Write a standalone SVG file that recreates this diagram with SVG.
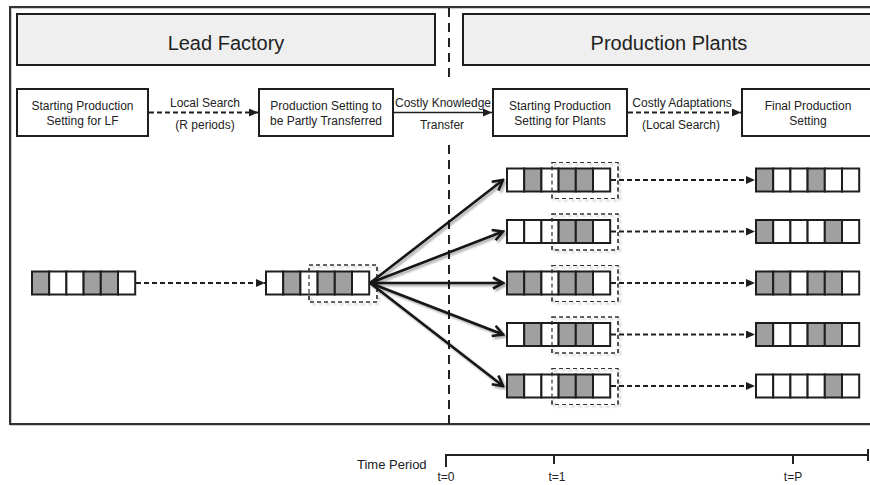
<svg xmlns="http://www.w3.org/2000/svg" width="870" height="485" viewBox="0 0 870 485">
<defs>
<style>
text{font-family:"Liberation Sans",Arial,sans-serif;fill:#222}
.t12{font-size:12px;text-anchor:middle}
.hdrt{font-size:20px;text-anchor:middle}
.box{fill:#fff;stroke:#1e1e1e;stroke-width:2}
.hdr{fill:#efefef;stroke:#1e1e1e;stroke-width:2}
.g{fill:#a0a0a0;stroke:#1e1e1e;stroke-width:2}
.w{fill:#fff;stroke:#1e1e1e;stroke-width:2}
.sel{fill:none;stroke:#333;stroke-width:1.2;stroke-dasharray:4 3}
.dash{fill:none;stroke:#1e1e1e;stroke-width:2;stroke-dasharray:5 3}
.solid{fill:none;stroke:#1e1e1e;stroke-width:1.6}
.fan{fill:none;stroke:#151515;stroke-width:2.6}
.axis{fill:none;stroke:#222;stroke-width:2}
</style>
<filter id="shadow" x="-20%" y="-20%" width="140%" height="140%">
<feGaussianBlur in="SourceAlpha" stdDeviation="1.2"/>
<feOffset dx="2" dy="2" result="b"/>
<feComponentTransfer><feFuncA type="linear" slope="0.35"/></feComponentTransfer>
<feMerge><feMergeNode/><feMergeNode in="SourceGraphic"/></feMerge>
</filter>
<marker id="tri" markerUnits="userSpaceOnUse" markerWidth="10" markerHeight="8" refX="9" refY="4" orient="auto">
<path d="M0,0 L9,4 L0,8 z" fill="#1e1e1e"/>
</marker>
<marker id="vee" markerUnits="userSpaceOnUse" viewBox="0 0 14 14" markerWidth="14" markerHeight="14" refX="12" refY="7" orient="auto">
<path d="M2,1.5 L12,7 L2,12.5" fill="none" stroke="#151515" stroke-width="2.6" stroke-linejoin="miter"/>
</marker>
</defs>

<!-- outer frame and region divider -->
<g id="frame">
<rect x="11" y="8" width="880" height="417" fill="none" stroke="#bbb" stroke-width="1.5"/>
<rect x="10" y="7" width="880" height="417" fill="none" stroke="#333" stroke-width="2"/>
<line x1="449" y1="8" x2="449" y2="82" stroke="#222" stroke-width="2" stroke-dasharray="9 6"/>
<line x1="449" y1="145" x2="449" y2="424" stroke="#222" stroke-width="2" stroke-dasharray="9 6"/>
</g>

<!-- section headers -->
<g id="hdr-lead">
<rect class="hdr" x="17" y="14" width="418" height="51"/>
<text class="hdrt" x="226" y="50">Lead Factory</text>
</g>
<g id="hdr-plants">
<rect class="hdr" x="463" y="14" width="420" height="51"/>
<text class="hdrt" x="669" y="50">Production Plants</text>
</g>

<!-- process stages -->
<g id="stage-start-lf">
<rect class="box" x="17" y="89" width="131" height="47"/>
<text class="t12" x="82.5" y="110">Starting Production</text>
<text class="t12" x="82.5" y="125">Setting for LF</text>
</g>
<g id="stage-transfer">
<rect class="box" x="259" y="89" width="134" height="47"/>
<text class="t12" x="326" y="110">Production Setting to</text>
<text class="t12" x="326" y="125">be Partly Transferred</text>
</g>
<g id="stage-start-plants">
<rect class="box" x="493" y="89" width="134" height="47"/>
<text class="t12" x="560" y="110">Starting Production</text>
<text class="t12" x="560" y="125">Setting for Plants</text>
</g>
<g id="stage-final">
<rect class="box" x="742" y="89" width="134" height="47"/>
<text class="t12" x="808" y="110">Final Production</text>
<text class="t12" x="808" y="125">Setting</text>
</g>

<!-- configuration strings -->
<g id="str-lf-start">
<rect class="g" x="32" y="271.5" width="17.2" height="23"/>
<rect class="w" x="49.2" y="271.5" width="17.2" height="23"/>
<rect class="w" x="66.4" y="271.5" width="17.2" height="23"/>
<rect class="g" x="83.6" y="271.5" width="17.2" height="23"/>
<rect class="g" x="100.8" y="271.5" width="17.2" height="23"/>
<rect class="w" x="118" y="271.5" width="17.2" height="23"/>
</g>
<g id="str-lf-end">
<rect class="sel" x="309" y="265" width="68" height="37" filter="url(#shadow)"/>
<rect class="w" x="266" y="271.5" width="17.2" height="23"/>
<rect class="g" x="283.2" y="271.5" width="17.2" height="23"/>
<rect class="w" x="300.4" y="271.5" width="17.2" height="23"/>
<rect class="g" x="317.6" y="271.5" width="17.2" height="23"/>
<rect class="g" x="334.8" y="271.5" width="17.2" height="23"/>
<rect class="w" x="352" y="271.5" width="17.2" height="23"/>
<rect class="sel" x="309" y="265" width="68" height="37"/>
</g>

<g id="str-plant1-start">
<rect class="sel" x="552" y="162.5" width="66" height="36" filter="url(#shadow)"/>
<rect class="w" x="507" y="168.5" width="17.2" height="23"/>
<rect class="g" x="524.2" y="168.5" width="17.2" height="23"/>
<rect class="w" x="541.4" y="168.5" width="17.2" height="23"/>
<rect class="g" x="558.6" y="168.5" width="17.2" height="23"/>
<rect class="g" x="575.8" y="168.5" width="17.2" height="23"/>
<rect class="w" x="593" y="168.5" width="17.2" height="23"/>
<rect class="sel" x="552" y="162.5" width="66" height="36"/>
</g>
<g id="str-plant2-start">
<rect class="sel" x="552" y="214" width="66" height="36" filter="url(#shadow)"/>
<rect class="w" x="507" y="220" width="17.2" height="23"/>
<rect class="w" x="524.2" y="220" width="17.2" height="23"/>
<rect class="w" x="541.4" y="220" width="17.2" height="23"/>
<rect class="g" x="558.6" y="220" width="17.2" height="23"/>
<rect class="g" x="575.8" y="220" width="17.2" height="23"/>
<rect class="w" x="593" y="220" width="17.2" height="23"/>
<rect class="sel" x="552" y="214" width="66" height="36"/>
</g>
<g id="str-plant3-start">
<rect class="sel" x="552" y="265.5" width="66" height="36" filter="url(#shadow)"/>
<rect class="g" x="507" y="271.5" width="17.2" height="23"/>
<rect class="g" x="524.2" y="271.5" width="17.2" height="23"/>
<rect class="w" x="541.4" y="271.5" width="17.2" height="23"/>
<rect class="g" x="558.6" y="271.5" width="17.2" height="23"/>
<rect class="g" x="575.8" y="271.5" width="17.2" height="23"/>
<rect class="w" x="593" y="271.5" width="17.2" height="23"/>
<rect class="sel" x="552" y="265.5" width="66" height="36"/>
</g>
<g id="str-plant4-start">
<rect class="sel" x="552" y="317" width="66" height="36" filter="url(#shadow)"/>
<rect class="w" x="507" y="323" width="17.2" height="23"/>
<rect class="g" x="524.2" y="323" width="17.2" height="23"/>
<rect class="w" x="541.4" y="323" width="17.2" height="23"/>
<rect class="g" x="558.6" y="323" width="17.2" height="23"/>
<rect class="g" x="575.8" y="323" width="17.2" height="23"/>
<rect class="w" x="593" y="323" width="17.2" height="23"/>
<rect class="sel" x="552" y="317" width="66" height="36"/>
</g>
<g id="str-plant5-start">
<rect class="sel" x="552" y="368.5" width="66" height="36" filter="url(#shadow)"/>
<rect class="g" x="507" y="374.5" width="17.2" height="23"/>
<rect class="w" x="524.2" y="374.5" width="17.2" height="23"/>
<rect class="w" x="541.4" y="374.5" width="17.2" height="23"/>
<rect class="g" x="558.6" y="374.5" width="17.2" height="23"/>
<rect class="g" x="575.8" y="374.5" width="17.2" height="23"/>
<rect class="w" x="593" y="374.5" width="17.2" height="23"/>
<rect class="sel" x="552" y="368.5" width="66" height="36"/>
</g>

<g id="str-plant1-final">
<rect class="g" x="756" y="168.5" width="17.2" height="23"/>
<rect class="w" x="773.2" y="168.5" width="17.2" height="23"/>
<rect class="w" x="790.4" y="168.5" width="17.2" height="23"/>
<rect class="g" x="807.6" y="168.5" width="17.2" height="23"/>
<rect class="w" x="824.8" y="168.5" width="17.2" height="23"/>
<rect class="w" x="842" y="168.5" width="17.2" height="23"/>
</g>
<g id="str-plant2-final">
<rect class="g" x="756" y="220" width="17.2" height="23"/>
<rect class="w" x="773.2" y="220" width="17.2" height="23"/>
<rect class="w" x="790.4" y="220" width="17.2" height="23"/>
<rect class="w" x="807.6" y="220" width="17.2" height="23"/>
<rect class="g" x="824.8" y="220" width="17.2" height="23"/>
<rect class="w" x="842" y="220" width="17.2" height="23"/>
</g>
<g id="str-plant3-final">
<rect class="g" x="756" y="271.5" width="17.2" height="23"/>
<rect class="g" x="773.2" y="271.5" width="17.2" height="23"/>
<rect class="w" x="790.4" y="271.5" width="17.2" height="23"/>
<rect class="g" x="807.6" y="271.5" width="17.2" height="23"/>
<rect class="g" x="824.8" y="271.5" width="17.2" height="23"/>
<rect class="w" x="842" y="271.5" width="17.2" height="23"/>
</g>
<g id="str-plant4-final">
<rect class="g" x="756" y="323" width="17.2" height="23"/>
<rect class="w" x="773.2" y="323" width="17.2" height="23"/>
<rect class="w" x="790.4" y="323" width="17.2" height="23"/>
<rect class="g" x="807.6" y="323" width="17.2" height="23"/>
<rect class="g" x="824.8" y="323" width="17.2" height="23"/>
<rect class="w" x="842" y="323" width="17.2" height="23"/>
</g>
<g id="str-plant5-final">
<rect class="w" x="756" y="374.5" width="17.2" height="23"/>
<rect class="w" x="773.2" y="374.5" width="17.2" height="23"/>
<rect class="w" x="790.4" y="374.5" width="17.2" height="23"/>
<rect class="w" x="807.6" y="374.5" width="17.2" height="23"/>
<rect class="g" x="824.8" y="374.5" width="17.2" height="23"/>
<rect class="w" x="842" y="374.5" width="17.2" height="23"/>
</g>

<!-- connectors -->
<g id="connectors">
<line class="dash" x1="149" y1="112.5" x2="258" y2="112.5" marker-end="url(#tri)"/>
<text class="t12" x="205" y="107">Local Search</text>
<text class="t12" x="205" y="129">(R periods)</text>
<line class="solid" x1="394" y1="112.5" x2="492" y2="112.5" marker-end="url(#tri)"/>
<text class="t12" x="443" y="107">Costly Knowledge</text>
<text class="t12" x="442" y="129">Transfer</text>
<line class="dash" x1="628" y1="112.5" x2="741" y2="112.5" marker-end="url(#tri)"/>
<text class="t12" x="682" y="107">Costly Adaptations</text>
<text class="t12" x="681" y="129">(Local Search)</text>

<line class="dash" x1="136" y1="283" x2="265" y2="283" marker-end="url(#tri)"/>

<g filter="url(#shadow)">
<line class="fan" x1="370" y1="283" x2="503" y2="180" marker-end="url(#vee)"/>
<line class="fan" x1="370" y1="283" x2="503" y2="231.5" marker-end="url(#vee)"/>
<line class="fan" x1="370" y1="283" x2="503" y2="283" marker-end="url(#vee)"/>
<line class="fan" x1="370" y1="283" x2="503" y2="334.5" marker-end="url(#vee)"/>
<line class="fan" x1="370" y1="283" x2="503" y2="386" marker-end="url(#vee)"/>
</g>

<line class="dash" x1="611" y1="180" x2="755" y2="180" marker-end="url(#tri)"/>
<line class="dash" x1="611" y1="231.5" x2="755" y2="231.5" marker-end="url(#tri)"/>
<line class="dash" x1="611" y1="283" x2="755" y2="283" marker-end="url(#tri)"/>
<line class="dash" x1="611" y1="334.5" x2="755" y2="334.5" marker-end="url(#tri)"/>
<line class="dash" x1="611" y1="386" x2="755" y2="386" marker-end="url(#tri)"/>
</g>

<!-- time axis -->
<g id="time-axis">
<text x="357" y="469" style="font-size:13px">Time Period</text>
<polyline class="axis" points="446,467 446,455 868,455"/>
<line class="axis" x1="868" y1="449" x2="868" y2="461" stroke-width="3"/>
<line class="axis" x1="554" y1="455" x2="554" y2="464"/>
<line class="axis" x1="793" y1="455" x2="793" y2="464"/>
<text class="t12" x="446" y="481">t=0</text>
<text class="t12" x="557" y="481">t=1</text>
<text class="t12" x="793" y="481">t=P</text>
</g>
</svg>
